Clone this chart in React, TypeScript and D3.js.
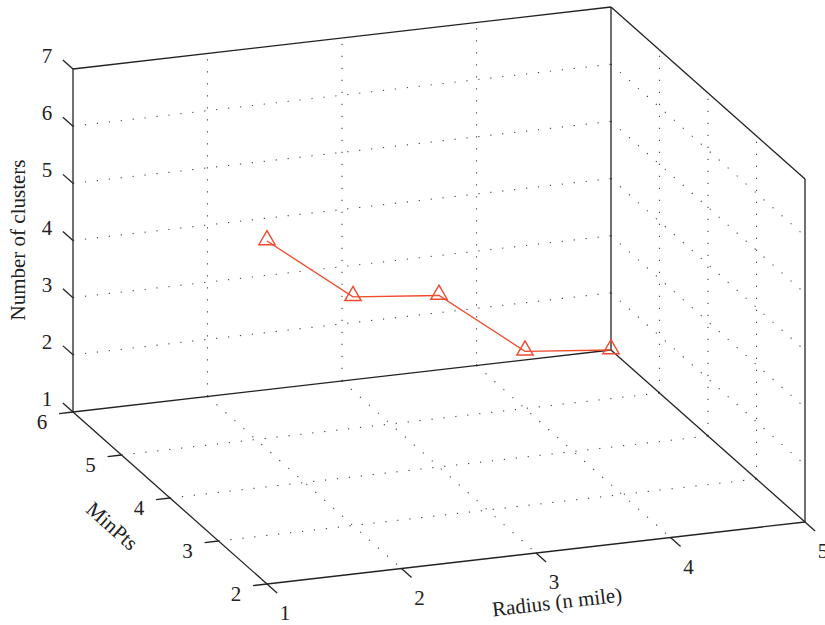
import React from "react";
import * as d3 from "d3";

// data
const radius = [1, 2, 3, 4, 5];
const minPts = [2, 3, 4, 5, 6];
const clusters = [7, 5, 4, 2, 1];

const radiusTicks = [1, 2, 3, 4, 5];
const minPtsTicks = [2, 3, 4, 5, 6];
const clusterTicks = [1, 2, 3, 4, 5, 6, 7];

const W = 825, H = 625;
const FONT = "'Liberation Serif', 'DejaVu Serif', serif";

// normalised axis scales, then a fixed oblique projection (like matlab view)
const xs = d3.scaleLinear().domain([1, 5]).range([0, 1]);
const ys = d3.scaleLinear().domain([6, 2]).range([0, 1]);
const zs = d3.scaleLinear().domain([1, 7]).range([0, 1]);
const O = [73, 412];
const EX = [538, -62];
const EY = [194, 172];
const EZ = [0, -343];

const proj = (x: number, y: number, z: number): [number, number] => [
  O[0] + xs(x) * EX[0] + ys(y) * EY[0] + zs(z) * EZ[0],
  O[1] + xs(x) * EX[1] + ys(y) * EY[1] + zs(z) * EZ[1],
];

const unit = (v: number[]) => {
  const l = Math.hypot(v[0], v[1]);
  return [v[0] / l, v[1] / l];
};
const uX = unit(EX), uY = unit(EY);

const seg = (a: [number, number], b: [number, number], props: any, key: string) => (
  <line key={key} x1={a[0]} y1={a[1]} x2={b[0]} y2={b[1]} {...props} />
);

export default function App() {
  const [x0, x1] = xs.domain();
  const [y0, y1] = ys.domain(); // 6 -> 2
  const [z0, z1] = zs.domain();

  const grid = { stroke: "#444", strokeWidth: 1.1, strokeDasharray: "1.2 10.8" };
  const box = { stroke: "#222", strokeWidth: 1.3 };

  const gridLines: any[] = [];
  // back wall (y = 6)
  radiusTicks.slice(1, -1).forEach((x) =>
    gridLines.push(seg(proj(x, y0, z0), proj(x, y0, z1), grid, "bx" + x)));
  clusterTicks.slice(1, -1).forEach((z) =>
    gridLines.push(seg(proj(x0, y0, z), proj(x1, y0, z), grid, "bz" + z)));
  // side wall (x = 5)
  minPtsTicks.slice(1, -1).forEach((y) =>
    gridLines.push(seg(proj(x1, y, z0), proj(x1, y, z1), grid, "sy" + y)));
  clusterTicks.slice(1, -1).forEach((z) =>
    gridLines.push(seg(proj(x1, y0, z), proj(x1, y1, z), grid, "sz" + z)));
  // floor (z = 1)
  radiusTicks.slice(1, -1).forEach((x) =>
    gridLines.push(seg(proj(x, y0, z0), proj(x, y1, z0), grid, "fx" + x)));
  minPtsTicks.slice(1, -1).forEach((y) =>
    gridLines.push(seg(proj(x0, y, z0), proj(x1, y, z0), grid, "fy" + y)));

  const boxLines = [
    seg(proj(x0, y0, z0), proj(x0, y0, z1), box, "zaxis"),
    seg(proj(x0, y0, z1), proj(x1, y0, z1), box, "topback"),
    seg(proj(x1, y0, z0), proj(x1, y0, z1), box, "vback"),
    seg(proj(x1, y0, z1), proj(x1, y1, z1), box, "topside"),
    seg(proj(x1, y1, z0), proj(x1, y1, z1), box, "vfront"),
    seg(proj(x0, y0, z0), proj(x1, y0, z0), box, "botback"),
    seg(proj(x1, y0, z0), proj(x1, y1, z0), box, "botside"),
    seg(proj(x0, y0, z0), proj(x0, y1, z0), box, "yaxis"),
    seg(proj(x0, y1, z0), proj(x1, y1, z0), box, "xaxis"),
  ];

  const tl = 13.5;
  const ticks: any[] = [];
  const labels: any[] = [];
  const lab = { fontFamily: FONT, fontSize: 21, fill: "#222", textAnchor: "middle", dominantBaseline: "central" } as any;

  clusterTicks.forEach((z) => {
    const p = proj(x0, y0, z);
    ticks.push(seg(p, [p[0] - uY[0] * tl, p[1] - uY[1] * tl], box, "tz" + z));
    labels.push(<text key={"lz" + z} x={p[0] - 26} y={p[1] - 13} {...lab}>{z}</text>);
  });
  minPtsTicks.forEach((y) => {
    const p = proj(x0, y, z0);
    ticks.push(seg(p, [p[0] - uX[0] * 14, p[1] - uX[1] * 14], box, "ty" + y));
    labels.push(<text key={"ly" + y} x={p[0] - 31} y={p[1] + 10} {...lab}>{y}</text>);
  });
  radiusTicks.forEach((x) => {
    const p = proj(x, y1, z0);
    ticks.push(seg(p, [p[0] + uY[0] * tl, p[1] + uY[1] * tl], box, "tx" + x));
    labels.push(<text key={"lx" + x} x={p[0] + 18} y={p[1] + 29} {...lab}>{x}</text>);
  });

  const pts = radius.map((r, i) => proj(r, minPts[i], clusters[i]));
  const line = d3.line<[number, number]>().x((d) => d[0]).y((d) => d[1]);
  const red = "#ef4a2c";
  const tri = d3.symbol().type(d3.symbolTriangle).size(115);

  const angY = (Math.atan2(EY[1], EY[0]) * 180) / Math.PI;
  const angX = (Math.atan2(EX[1], EX[0]) * 180) / Math.PI;

  return (
    <svg width={W} height={H} style={{ position: "absolute", left: 0, top: 0, background: "#fff" }}>
      <g>{gridLines}</g>
      <g>{boxLines}</g>
      <g>{ticks}</g>
      <g>{labels}</g>
      <path d={line(pts) as string} fill="none" stroke={red} strokeWidth={1.3} />
      {pts.map((p, i) => (
        <path key={"m" + i} d={tri() as string} transform={`translate(${p[0]},${p[1] - 1})`}
          fill="none" stroke={red} strokeWidth={1.4} />
      ))}
      <text x={18} y={240} {...lab} transform="rotate(-90 18 240)">Number of clusters</text>
      <text x={112} y={526} {...lab} transform={`rotate(${angY} 112 526)`}>MinPts</text>
      <text x={557} y={602} {...lab} transform={`rotate(${angX} 557 602)`}>Radius (n mile)</text>
    </svg>
  );
}
